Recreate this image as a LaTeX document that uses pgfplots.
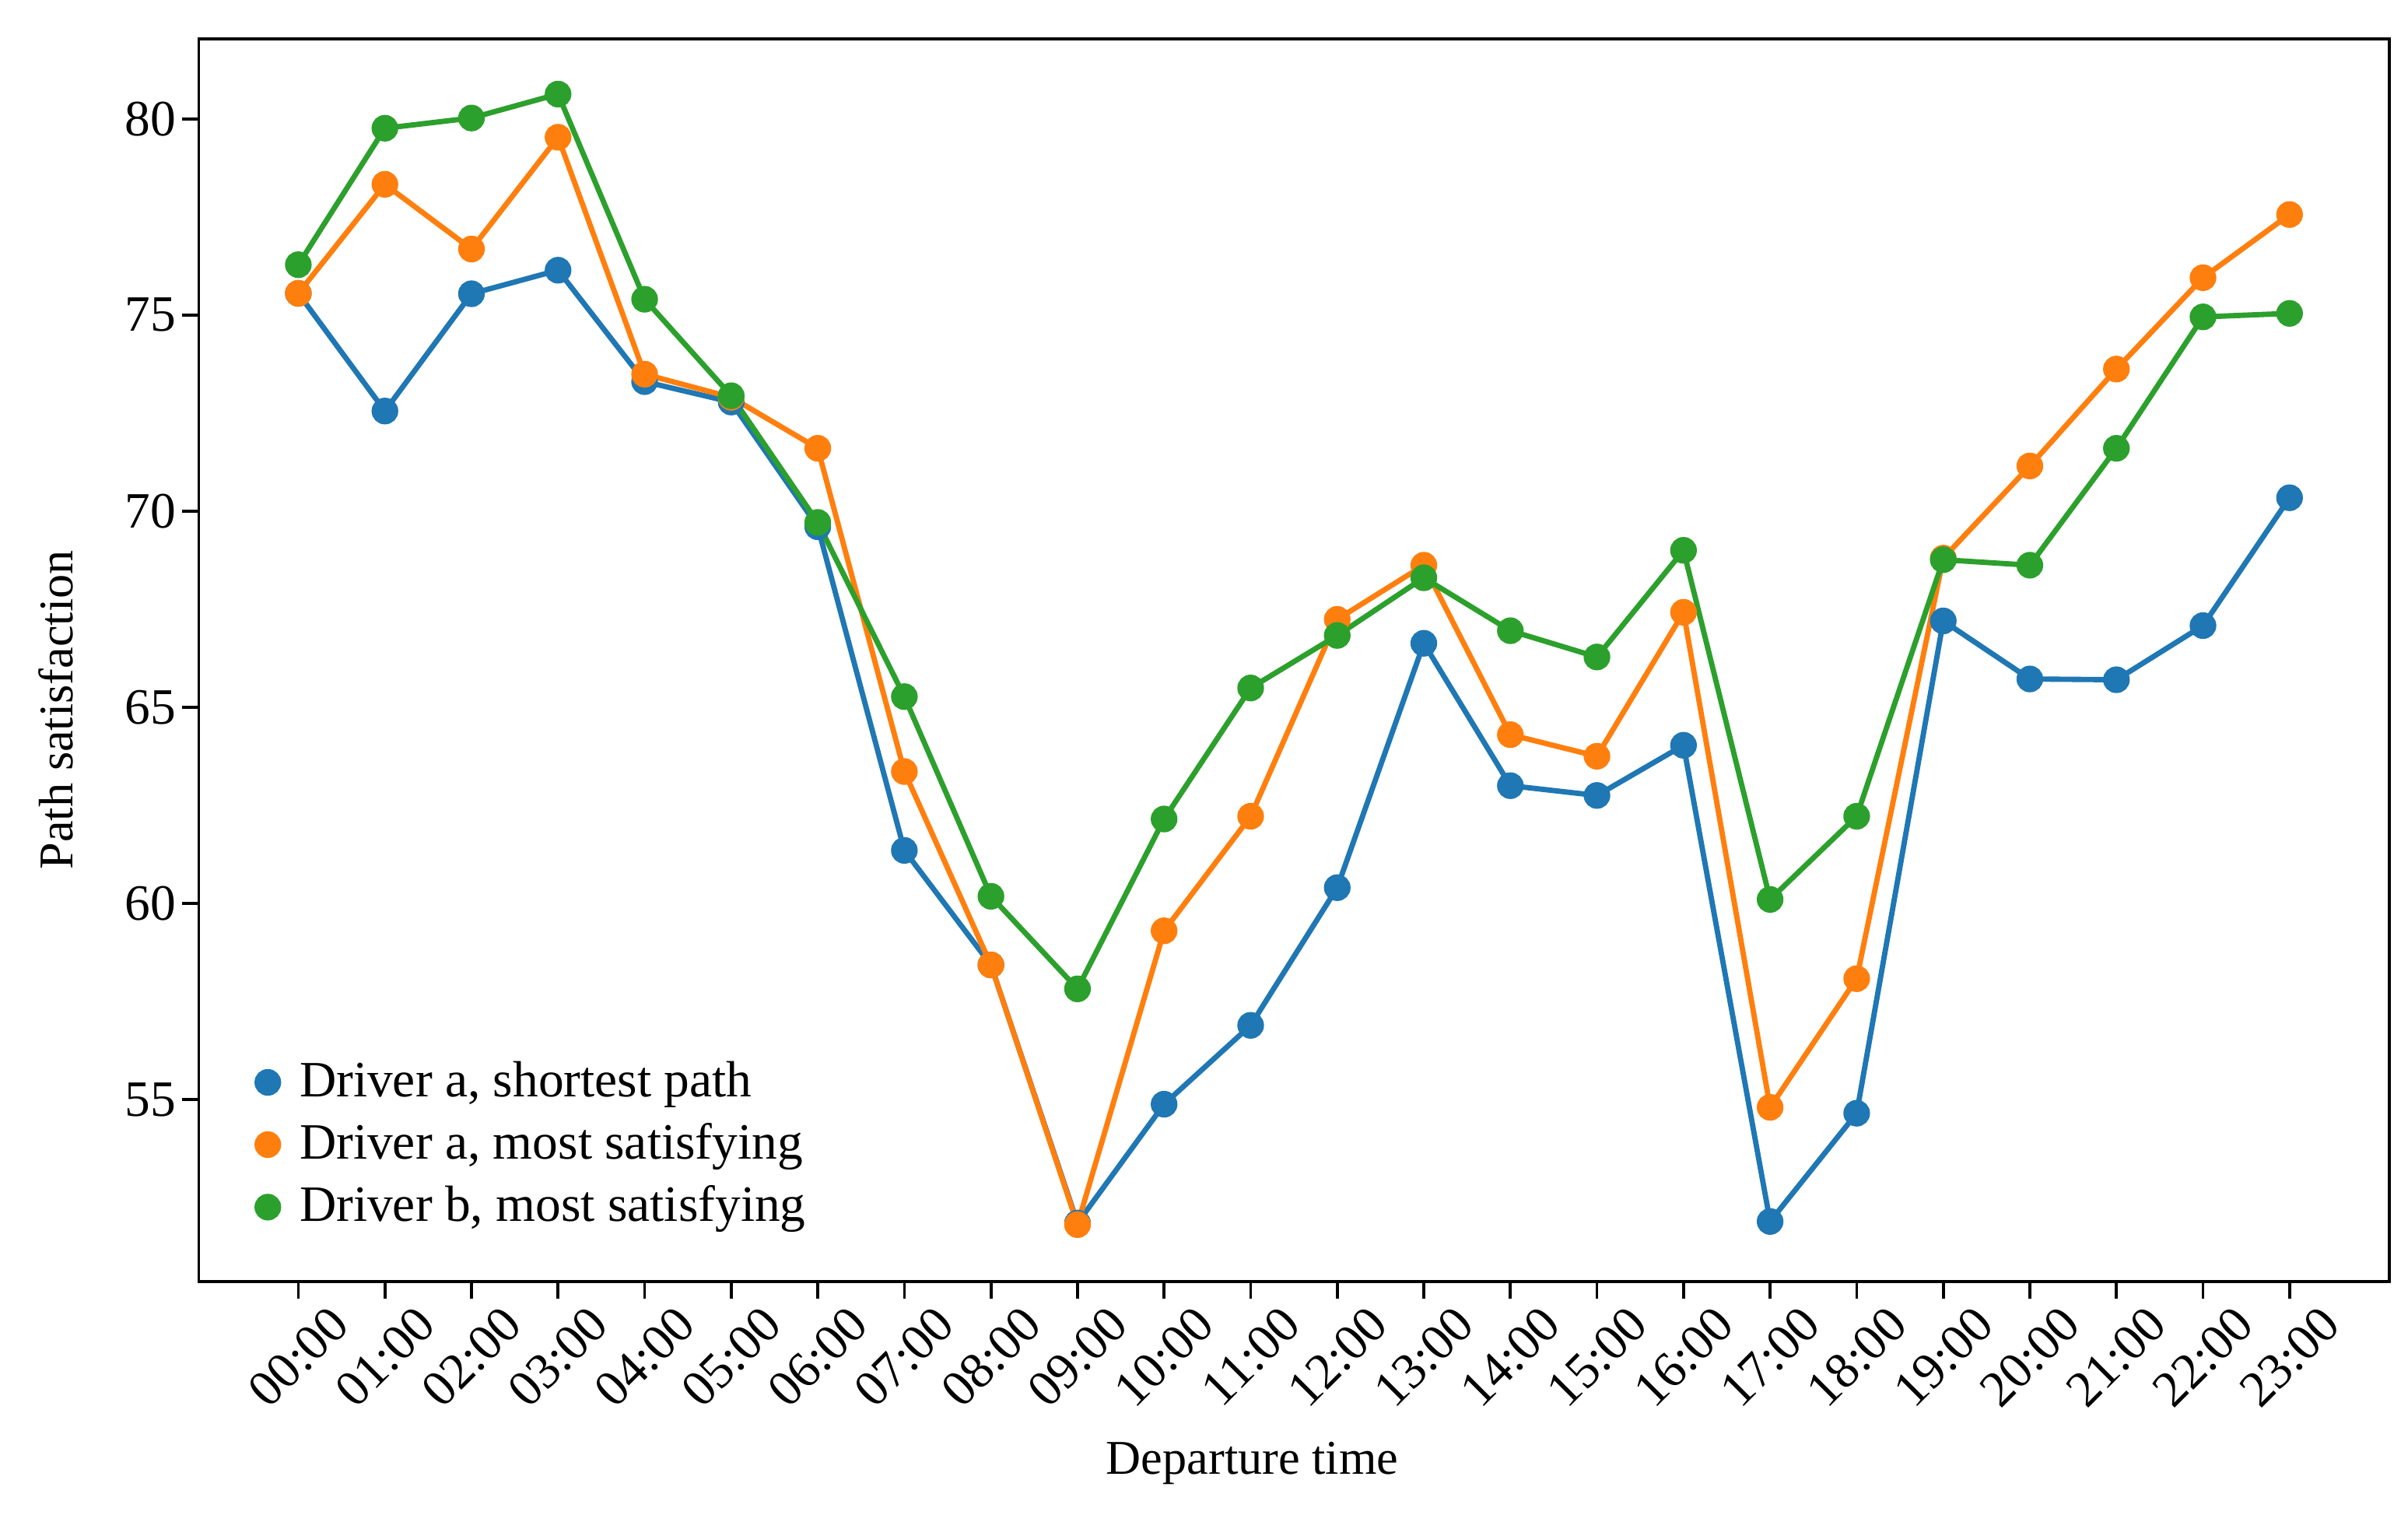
\documentclass[border=0pt]{standalone}
\usepackage{fontspec}
\setmainfont{Liberation Serif}
\usepackage{pgfplots}
\pgfplotsset{compat=1.18}

\definecolor{tabblue}{HTML}{1F77B4}
\definecolor{taborange}{HTML}{FF7F0E}
\definecolor{tabgreen}{HTML}{2CA02C}

% departure hour, satisfaction
\pgfplotstableread{
h  a_short a_sat b_sat
0  75.55   75.55 76.28
1  72.55   78.33 79.76
2  75.54   76.68 80.02
3  76.14   79.53 80.63
4  73.30   73.49 75.40
5  72.78   72.90 72.94
6  69.60   71.60 69.71
7  61.35   63.36 65.27
8  58.43   58.43 60.18
9  51.85   51.81 57.82
10 54.88   59.30 62.15
11 56.89   62.22 65.49
12 60.40   67.24 66.83
13 66.63   68.62 68.30
14 63.00   64.30 66.95
15 62.75   63.75 66.28
16 64.03   67.42 69.00
17 51.89   54.80 60.10
18 54.65   58.08 62.22
19 67.20   68.80 68.76
20 65.72   71.15 68.62
21 65.70   73.62 71.60
22 67.08   75.95 74.95
23 70.34   77.56 75.04
}\sat

\begin{document}
\begin{tikzpicture}
\useasboundingbox (-41pt,-49.6pt) rectangle (455.7pt,264.3pt);
\begin{axis}[
    scale only axis,
    width=451.8pt, height=256.3pt,
    xmin=-1.15, xmax=24.15,
    ymin=50.36, ymax=82.04,
    xtick=data,
    xticklabels={00:00,01:00,02:00,03:00,04:00,05:00,06:00,07:00,08:00,09:00,10:00,11:00,
                 12:00,13:00,14:00,15:00,16:00,17:00,18:00,19:00,20:00,21:00,22:00,23:00},
    ytick={55,60,65,70,75,80},
    tick align=outside,
    xtick pos=bottom, ytick pos=left,
    major tick length=3.5pt,
    tick style={black, line width=0.6pt},
    axis line style={black, line width=0.6pt},
    /pgf/number format/assume math mode=true,
    tick label style={font=\fontsize{10.5}{12}\selectfont},
    label style={font=\fontsize{10.5}{12}\selectfont},
    xticklabel style={yshift=-12pt, rotate=45, anchor=center},
    yticklabel style={anchor=east, inner xsep=1pt},
    xlabel={Departure time},
    ylabel={Path satisfaction},
    every axis x label/.style={at={(axis description cs:0.481,0)}, anchor=center, yshift=-37.5pt},
    every axis y label/.style={at={(axis description cs:0,0.46)}, xshift=-29.4pt, rotate=90, anchor=center},
    legend style={at={(axis description cs:0.024,0.03)}, anchor=south west,
                  draw=none, fill=none, row sep=0pt, inner sep=1pt,
                  font=\fontsize{10.5}{12}\selectfont},
    legend cell align=left,
    legend image code/.code={\draw[#1, only marks] plot coordinates {(0pt,0pt)}; \path (4pt,0pt);},
    every axis plot/.append style={line width=1.1pt, mark=*, mark size=2.2pt},
]
\addplot[tabblue, mark options={fill=tabblue}] table[x=h, y=a_short] {\sat};
\addlegendentry{Driver a, shortest path}
\addplot[taborange, mark options={fill=taborange}] table[x=h, y=a_sat] {\sat};
\addlegendentry{Driver a, most satisfying}
\addplot[tabgreen, mark options={fill=tabgreen}] table[x=h, y=b_sat] {\sat};
\addlegendentry{Driver b, most satisfying}
\end{axis}
\end{tikzpicture}
\end{document}
